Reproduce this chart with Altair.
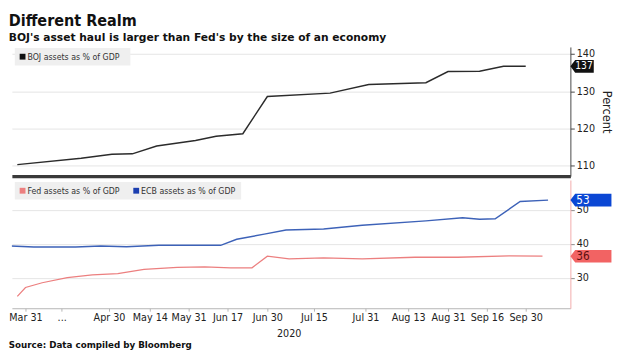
import altair as alt
import pandas as pd
from datetime import datetime, timezone

# ---------------- data ----------------
boj_name = ["BOJ assets as % of GDP"]
boj_dates = ["2020-03-28", "2020-04-20", "2020-05-01", "2020-05-08", "2020-05-17",
             "2020-06-03", "2020-06-12", "2020-06-22", "2020-06-30", "2020-07-20",
             "2020-08-01", "2020-08-21", "2020-08-31", "2020-09-13", "2020-09-22",
             "2020-09-30"]
boj_values = [110.3, 112.0, 113.1, 113.2, 115.3, 116.8, 117.9, 118.6, 128.6, 129.5,
              131.8, 132.3, 135.3, 135.4, 136.7, 136.7]

fed_name = ["Fed assets as % of GDP"]
fed_dates = ["2020-03-28", "2020-03-31", "2020-04-06", "2020-04-15", "2020-04-24",
             "2020-05-03", "2020-05-12", "2020-05-26", "2020-06-07", "2020-06-18",
             "2020-06-25", "2020-06-30", "2020-07-07", "2020-07-18", "2020-07-30",
             "2020-08-16", "2020-09-04", "2020-09-24", "2020-10-06"]
fed_values = [24.6, 27.2, 28.6, 30.1, 30.9, 31.3, 32.5, 33.1, 33.3, 33.0,
              33.0, 36.4, 35.6, 35.9, 35.6, 36.1, 36.1, 36.5, 36.4]

ecb_name = ["ECB assets as % of GDP"]
ecb_dates = ["2020-03-24", "2020-04-03", "2020-04-18", "2020-04-27", "2020-05-06",
             "2020-05-18", "2020-06-14", "2020-06-20", "2020-06-29", "2020-07-06",
             "2020-07-18", "2020-07-30", "2020-08-21", "2020-09-06", "2020-09-13",
             "2020-09-19", "2020-09-28", "2020-10-08"]
ecb_values = [39.5, 39.1, 39.1, 39.4, 39.2, 39.6, 39.6, 41.4, 42.9, 44.1,
              44.4, 45.5, 46.8, 47.7, 47.3, 47.4, 52.5, 52.9]

# x axis: the reference spaces its date labels unevenly, so the time scale is piecewise
x_label_dates = [(3, 31), (4, 13), (4, 30), (5, 14), (5, 31), (6, 17), (6, 30),
                 (7, 15), (7, 31), (8, 13), (8, 31), (9, 16), (9, 30)]
x_knot_dates = [(3, 26), (3, 31), (4, 30), (5, 14), (5, 31), (6, 17), (6, 30),
                (7, 15), (7, 31), (8, 13), (8, 31), (9, 16), (9, 30), (10, 16)]
x_knot_pos = [0, 14, 100, 142, 182, 222, 263, 311, 364, 408, 449, 489, 529, 575]

top_ticks = [110, 120, 130, 140]
bottom_ticks = [30, 40, 50]

title_text = "Different Realm"
subtitle_text = "BOJ's asset haul is larger than Fed's by the size of an economy"
source_text = "Source: Data compiled by Bloomberg"
year_text = "2020"

# ---------------- styling ----------------
FONT = "DejaVu Sans Condensed, Liberation Sans Narrow, DejaVu Sans, sans-serif"
FONT_W = "DejaVu Sans, Verdana, sans-serif"
W = 575
H1 = 133
H2 = 132
BOJ_C = "#2b2b2b"
FED_C = "#ec7f7f"
ECB_C = "#3d62b8"
FED_TAG = "#f26363"
ECB_TAG = "#0b47d4"


def ms(m, d):
    return int(datetime(2020, m, d, tzinfo=timezone.utc).timestamp() * 1000)


def to_ms(s):
    y, m, d = (int(p) for p in s.split("-"))
    return ms(m, d)


boj = pd.DataFrame({"t": [to_ms(s) for s in boj_dates], "value": boj_values})
fed = pd.DataFrame({"t": [to_ms(s) for s in fed_dates], "value": fed_values})
ecb = pd.DataFrame({"t": [to_ms(s) for s in ecb_dates], "value": ecb_values})


def xscale():
    return alt.Scale(type="linear", domain=[ms(m, d) for m, d in x_knot_dates],
                     range=x_knot_pos, nice=False, zero=False)


def tag_shape(w_units):
    return f"M0,0L0.38,-0.5L{w_units},-0.5L{w_units},0.5L0.38,0.5Z"


TAG_SIZE = 676  # unit = sqrt(size)/2 = 13 px

# ---------------- top panel ----------------
ytop = alt.Scale(domain=[107.2, 141.9], nice=False, zero=False)

top_axis_y = alt.Axis(orient="right", values=top_ticks, grid=True, gridColor="#e4e4e4",
                      domainColor="#444", tickColor="#444", tickSize=4,
                      labelFont=FONT, labelFontSize=11, labelColor="#222", labelPadding=2,
                      title="Percent", titleFont=FONT, titleFontSize=13,
                      titleFontWeight="normal", titleColor="#222", titlePadding=5)
top_axis_x = alt.Axis(labels=False, ticks=False, grid=False, title=None,
                      domainColor="#3a3a3a", domainWidth=3.5)

boj_line = alt.Chart(boj).mark_line(color=BOJ_C, strokeWidth=1.5).encode(
    x=alt.X("t:Q", scale=xscale(), axis=top_axis_x),
    y=alt.Y("value:Q", scale=ytop, axis=top_axis_y),
)
boj_last = boj.tail(1)
boj_tag = alt.Chart(boj_last).mark_point(shape=tag_shape(1.85), size=TAG_SIZE, filled=True,
                                         opacity=1, color="#111").encode(
    x=alt.value(W), y=alt.Y("value:Q", scale=ytop))
boj_tag_txt = alt.Chart(boj_last).mark_text(align="left", baseline="middle", font=FONT,
                                            fontSize=10.5, color="white").encode(
    x=alt.value(W + 5), y=alt.Y("value:Q", scale=ytop),
    text=alt.Text("value:Q", format=".0f"))

leg_top = pd.DataFrame({"series": boj_name})
top_leg_bg = alt.Chart(leg_top).mark_rect(color="#efefef").encode(
    x=alt.value(3), x2=alt.value(122), y=alt.value(1), y2=alt.value(19))
top_leg_sq = alt.Chart(leg_top).mark_square(size=36, filled=True, opacity=1, color="#111").encode(
    x=alt.value(11), y=alt.value(10))
top_leg_tx = alt.Chart(leg_top).mark_text(align="left", baseline="middle", font=FONT,
                                          fontSize=9, color="#333").encode(
    x=alt.value(16), y=alt.value(10.5), text="series:N")

top = alt.layer(boj_line, boj_tag, boj_tag_txt, top_leg_bg, top_leg_sq, top_leg_tx).properties(
    width=W, height=H1)

# ---------------- bottom panel ----------------
ybot = alt.Scale(domain=[21.1, 58.8], nice=False, zero=False)

bot_axis_y = alt.Axis(orient="right", values=bottom_ticks, grid=True, gridColor="#e4e4e4",
                      domainColor="#f2a9a9", tickColor="#888", tickSize=4,
                      labelFont=FONT, labelFontSize=11, labelColor="#222", labelPadding=2,
                      title=None)
bot_axis_x = alt.Axis(
    values=[ms(m, d) for m, d in x_label_dates],
    labelExpr="(utcmonth(datum.value) == 3 && utcdate(datum.value) == 13) ? '...' : utcFormat(datum.value, '%b %d')",
    labelOverlap=False, labelFlush=False, labelFont=FONT, labelFontSize=11,
    labelColor="#222", labelPadding=1, grid=False,
    domainColor="#b5b5b5", tickColor="#b5b5b5", tickSize=3,
    title=year_text, titleX=285, titleFont=FONT, titleFontSize=11,
    titleFontWeight="normal", titleColor="#222", titlePadding=5)

fed_line = alt.Chart(fed).mark_line(color=FED_C, strokeWidth=1.3, clip=True).encode(
    x=alt.X("t:Q", scale=xscale(), axis=bot_axis_x),
    y=alt.Y("value:Q", scale=ybot, axis=bot_axis_y),
)
ecb_line = alt.Chart(ecb).mark_line(color=ECB_C, strokeWidth=1.5, clip=True).encode(
    x=alt.X("t:Q", scale=xscale(), axis=bot_axis_x),
    y=alt.Y("value:Q", scale=ybot, axis=bot_axis_y),
)

fed_last = fed.tail(1)
ecb_last = ecb.tail(1)
fed_tag = alt.Chart(fed_last).mark_point(shape=tag_shape(3.25), size=TAG_SIZE, filled=True,
                                         opacity=1, color=FED_TAG).encode(
    x=alt.value(W), y=alt.Y("value:Q", scale=ybot))
fed_tag_txt = alt.Chart(fed_last).mark_text(align="left", baseline="middle", font=FONT,
                                            fontSize=12, color="#5c0f0f").encode(
    x=alt.value(W + 6), y=alt.Y("value:Q", scale=ybot),
    text=alt.Text("value:Q", format=".0f"))
ecb_tag = alt.Chart(ecb_last).mark_point(shape=tag_shape(3.25), size=TAG_SIZE, filled=True,
                                         opacity=1, color=ECB_TAG).encode(
    x=alt.value(W), y=alt.Y("value:Q", scale=ybot))
ecb_tag_txt = alt.Chart(ecb_last).mark_text(align="left", baseline="middle", font=FONT,
                                            fontSize=12, color="white").encode(
    x=alt.value(W + 6), y=alt.Y("value:Q", scale=ybot),
    text=alt.Text("value:Q", format=".0f"))

leg_bot = pd.DataFrame({"series": fed_name + ecb_name,
                        "color": [FED_C, "#1c3fb0"],
                        "sx": [11, 128], "tx": [16, 133]})
bot_leg_bg = alt.Chart(leg_bot.head(1)).mark_rect(color="#efefef").encode(
    x=alt.value(3), x2=alt.value(236), y=alt.value(2), y2=alt.value(20))
bot_leg_sq = alt.Chart(leg_bot).mark_square(size=36, filled=True, opacity=1).encode(
    x=alt.X("sx:Q", scale=None), y=alt.value(11),
    color=alt.Color("color:N", scale=None))
bot_leg_tx = alt.Chart(leg_bot).mark_text(align="left", baseline="middle", font=FONT,
                                          fontSize=9, color="#333").encode(
    x=alt.X("tx:Q", scale=None), y=alt.value(11.5), text="series:N")

bottom = alt.layer(fed_line, ecb_line, fed_tag, fed_tag_txt, ecb_tag, ecb_tag_txt,
                   bot_leg_bg, bot_leg_sq, bot_leg_tx).properties(
    width=W, height=H2,
    title=alt.TitleParams(source_text, orient="bottom", anchor="start", font=FONT_W,
                          fontSize=9, fontWeight="bold", color="#111", offset=3))

chart = alt.vconcat(top, bottom, spacing=4).properties(
    padding={"left": 0, "top": 0, "right": 6, "bottom": 0},
    title=alt.TitleParams(title_text, subtitle=[subtitle_text], anchor="start",
                          font=FONT, fontSize=16.5, fontWeight="bold", color="#111",
                          subtitleFont=FONT_W, subtitleFontSize=11,
                          subtitleFontWeight="bold", subtitleColor="#111",
                          subtitlePadding=3, offset=4),
).configure_view(stroke=None).resolve_scale(x="independent")

chart.save("out.html", embed_options={"renderer": "svg", "actions": False})
